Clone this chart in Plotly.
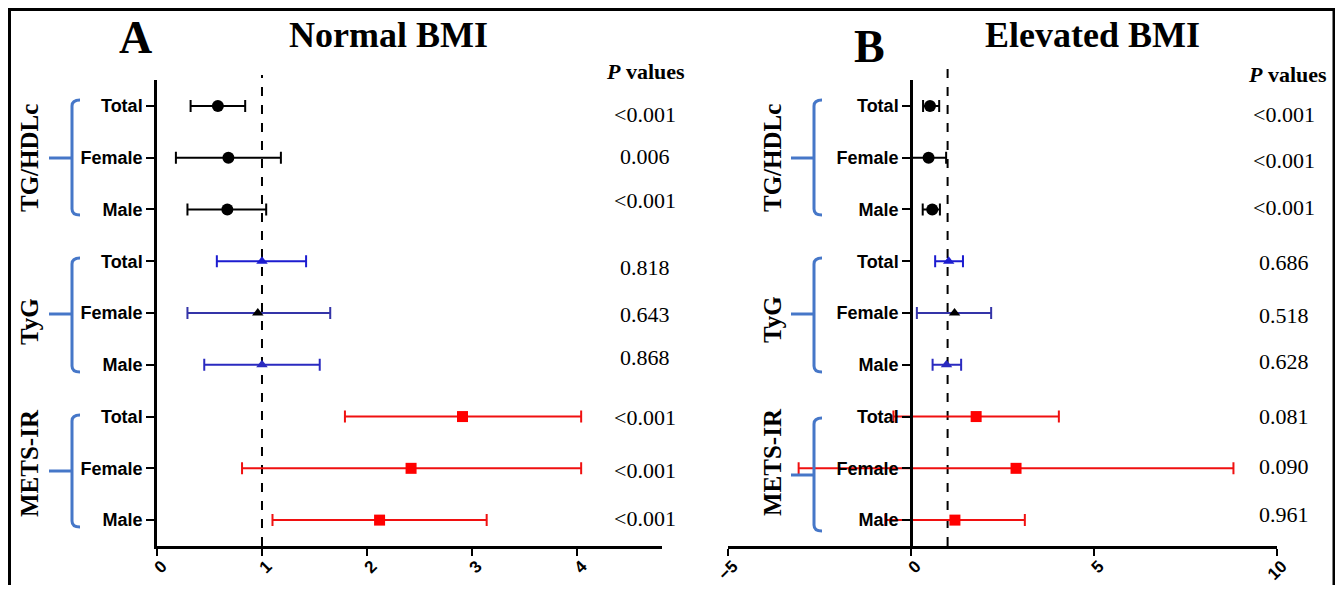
import plotly.graph_objects as go

W, H = 1343, 593
OFF = 8                      # page body margin of the browser
FW, FH = W - 2 * OFF, H - 2 * OFF

# ---------------- data ----------------
row_labels = ["Total", "Female", "Male", "Total", "Female", "Male", "Total", "Female", "Male"]
group_labels = ["TG/HDLc", "TyG", "METS-IR"]

normal_or = [0.58, 0.68, 0.67, 1.00, 0.96, 1.00, 2.91, 2.42, 2.12]
normal_lo = [0.32, 0.18, 0.29, 0.57, 0.29, 0.45, 1.79, 0.81, 1.10]
normal_hi = [0.84, 1.18, 1.04, 1.42, 1.65, 1.55, 4.04, 4.04, 3.14]
normal_p = ["&lt;0.001", "0.006", "&lt;0.001", "0.818", "0.643", "0.868", "&lt;0.001", "&lt;0.001", "&lt;0.001"]

elev_or = [0.52, 0.48, 0.58, 1.03, 1.19, 0.97, 1.78, 2.87, 1.20]
elev_lo = [0.33, 0.00, 0.32, 0.66, 0.16, 0.59, -0.48, -3.07, -0.70]
elev_hi = [0.77, 0.96, 0.79, 1.42, 2.19, 1.37, 4.04, 8.81, 3.11]
elev_p = ["&lt;0.001", "&lt;0.001", "&lt;0.001", "0.686", "0.518", "0.628", "0.081", "0.090", "0.961"]

normal_ticks = [0, 1, 2, 3, 4]
elev_ticks = [-5, 0, 5, 10]

# ---------------- style ----------------
symbols = ["circle"] * 3 + ["triangle-up"] * 3 + ["square"] * 3
marker_colors = ["#000000"] * 3 + ["#1c1cd0", "#000000", "#2a2ac0"] + ["#ff0000"] * 3
err_colors = ["#000000"] * 3 + ["#1c1cd0", "#3434a8", "#2a2ac0"] + ["#f01010"] * 3
marker_sizes = [12] * 3 + [10] * 3 + [11] * 3
p_shift_a = [-9, 1, 9, -6, -1, 7, -1, -2, 2]
p_shift_b = [-9, -3, 2, -1, -2, 3, 0, 2, 6]

SERIF = "Liberation Serif, Times New Roman, serif"
SANS = "Liberation Sans, Arial, sans-serif"


def px(x):
    return (x - OFF) / FW


def py(y):
    return 1 - (y - OFF) / FH


ypos = list(range(1, 10))

fig = go.Figure()


def add_panel(ors, los, his, xa, ya):
    for i in range(9):
        fig.add_trace(go.Scatter(
            x=[ors[i]], y=[ypos[i]], xaxis=xa, yaxis=ya, mode="markers",
            marker=dict(symbol=symbols[i], size=marker_sizes[i], color=marker_colors[i]),
            error_x=dict(type="data", symmetric=False, array=[his[i] - ors[i]],
                         arrayminus=[ors[i] - los[i]], color=err_colors[i],
                         thickness=2, width=6),
            showlegend=False, hoverinfo="x+y", cliponaxis=False,
        ))


add_panel(normal_or, normal_lo, normal_hi, "x", "y")
add_panel(elev_or, elev_lo, elev_hi, "x2", "y2")

ydom = [py(546), py(80)]
common_y = dict(
    domain=ydom, range=[9.5, 0.5], tickvals=ypos, ticktext=row_labels,
    showline=True, linewidth=2.5, linecolor="black", ticks="outside", ticklen=8,
    tickwidth=2, tickcolor="black", showgrid=False, zeroline=False,
    tickfont=dict(family=SANS, size=18, color="black", weight="bold"),
)
common_x = dict(
    showline=True, linewidth=2.5, linecolor="black", ticks="outside", ticklen=7,
    tickwidth=2, tickcolor="black", showgrid=False, zeroline=False, tickangle=-45,
    ticklabelshift=5, ticklabelstandoff=-6,
    tickfont=dict(family=SANS, size=17, color="black", weight="bold"),
)

fig.update_layout(
    width=FW, height=FH, autosize=False,
    margin=dict(l=0, r=0, t=0, b=0, pad=0, autoexpand=False),
    paper_bgcolor="white", plot_bgcolor="rgba(0,0,0,0)",
    xaxis=dict(domain=[px(157), px(662)], range=[0, 4.81], tickvals=normal_ticks, anchor="y", **common_x),
    yaxis=dict(anchor="x", **common_y),
    xaxis2=dict(domain=[px(728), px(1277)], range=[-5, 10], tickvals=elev_ticks, anchor="y2", **common_x),
    yaxis2=dict(anchor="free", position=px(911), **common_y),
)

shapes = []
# reference dashed lines at OR = 1
shapes.append(dict(type="line", xref="x", yref="paper", x0=1, x1=1, y0=py(546), y1=py(75),
                   line=dict(color="black", width=2, dash="dash"), layer="below"))
shapes.append(dict(type="line", xref="x2", yref="paper", x0=1, x1=1, y0=py(546), y1=py(68),
                   line=dict(color="black", width=2, dash="dash"), layer="below"))

BLUE = "#4677C8"


def bracket(xv, xcurl, xstem, ytop, ybot, ystem):
    r = 6
    path = (f"M {px(xcurl)},{py(ytop)} Q {px(xv)},{py(ytop)} {px(xv)},{py(ytop + r)} "
            f"L {px(xv)},{py(ybot - r)} Q {px(xv)},{py(ybot)} {px(xcurl)},{py(ybot)}")
    shapes.append(dict(type="path", xref="paper", yref="paper", path=path,
                       line=dict(color=BLUE, width=3)))
    shapes.append(dict(type="line", xref="paper", yref="paper", x0=px(xstem), x1=px(xv),
                       y0=py(ystem), y1=py(ystem), line=dict(color=BLUE, width=3)))


for (t, b, s) in [(100, 215, 158), (258, 372, 314), (415, 527, 471)]:
    bracket(72, 80, 49, t, b, s)
for (t, b, s) in [(100, 215, 158), (258, 372, 314), (418, 531, 475)]:
    bracket(814, 822, 791, t, b, s)

# outer frame
shapes.append(dict(type="rect", xref="paper", yref="paper", x0=px(9.5), x1=px(1334),
                   y0=py(600), y1=py(9.5), line=dict(color="black", width=3)))

fig.update_layout(shapes=shapes)

ann = []


def text(x, y, s, size, angle=0, family=SERIF):
    ann.append(dict(x=px(x), y=py(y), xref="paper", yref="paper", text=s, showarrow=False,
                    xanchor="center", yanchor="middle", textangle=angle,
                    font=dict(family=family, size=size, color="black")))


text(135, 37, "<b>A</b>", 46)
text(388, 35, "<b>Normal BMI</b>", 36)
text(869, 46, "<b>B</b>", 46)
text(1092, 35, "<b>Elevated BMI</b>", 36)
text(645, 72, "<b><i>P</i> values</b>", 22)
text(1287, 74, "<b><i>P</i> values</b>", 22)

for gx, gy in [(29, [158, 322, 463]), (772, [158, 320, 462])]:
    for g, yy in zip(group_labels, gy):
        text(gx, yy, f"<b>{g}</b>", 25, angle=-90)

for i in range(9):
    ann.append(dict(x=px(645), y=ypos[i], xref="paper", yref="y", text=normal_p[i],
                    showarrow=False, xanchor="center", yanchor="middle", yshift=p_shift_a[i],
                    font=dict(family=SERIF, size=22, color="black")))
    ann.append(dict(x=px(1284), y=ypos[i], xref="paper", yref="y2", text=elev_p[i],
                    showarrow=False, xanchor="center", yanchor="middle", yshift=p_shift_b[i],
                    font=dict(family=SERIF, size=22, color="black")))

fig.update_layout(annotations=ann)

fig.write_html("out.html")
